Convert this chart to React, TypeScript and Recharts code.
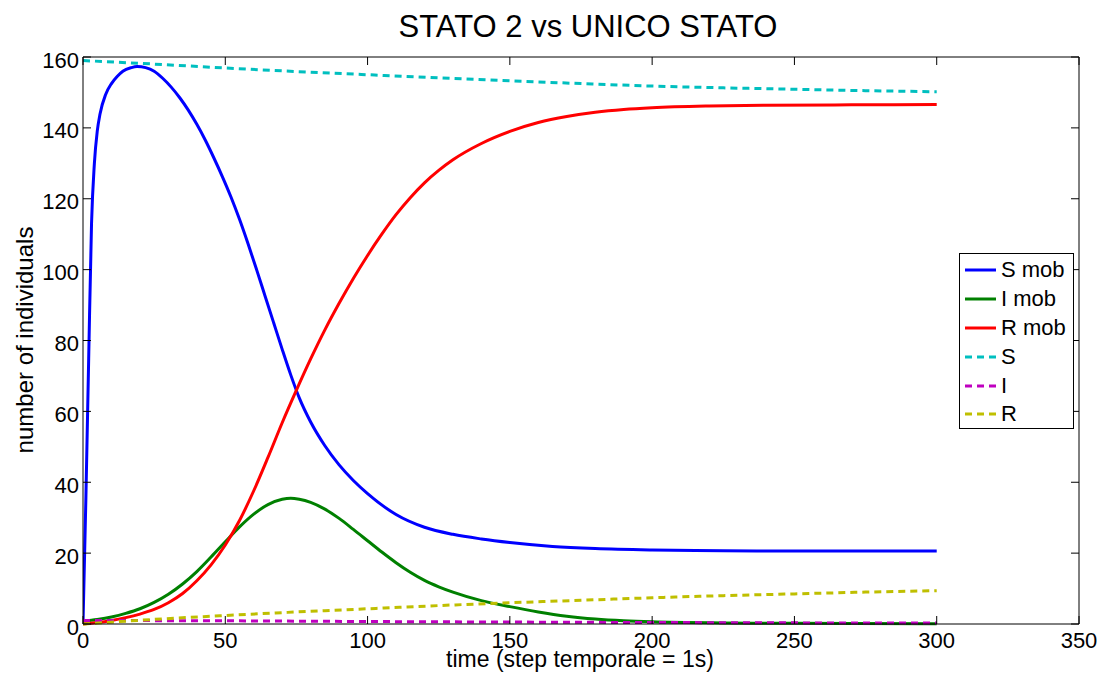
import React from 'react';
import { LineChart, Line, XAxis, YAxis, Legend, Label, ReferenceLine } from 'recharts';

// axis ticks
const xTicks = [0, 50, 100, 150, 200, 250, 300, 350];
const yTicks = [0, 20, 40, 60, 80, 100, 120, 140, 160];

// S mob
const sMobTime = [0, 1, 2, 3, 4, 5, 6, 8, 10, 12, 14, 17, 19, 22, 25, 28, 31, 34, 37, 40, 43, 46, 49, 52, 55, 58, 61, 64, 67, 70, 73, 76, 80, 85, 90, 95, 100, 110, 120, 130, 140, 150, 165, 180, 200, 225, 250, 275, 300];
const sMobValues = [0, 35, 75, 113, 130, 139, 144, 149.5, 152.5, 154.5, 156, 157, 157.3, 157, 156, 154, 151.5, 148.5, 145, 141, 136.5, 131.5, 126.2, 120.5, 114.2, 107.3, 100, 92.5, 85, 77.5, 70.3, 63.8, 57, 50.3, 44.9, 40.5, 36.8, 30.9, 27.3, 25.3, 24, 23, 21.9, 21.3, 20.9, 20.7, 20.6, 20.6, 20.6];

// I mob
const iMobTime = [0, 5, 10, 15, 20, 25, 30, 35, 40, 45, 50, 55, 60, 65, 70, 73, 76, 80, 85, 90, 95, 100, 105, 110, 115, 120, 125, 130, 140, 150, 160, 170, 180, 190, 200, 225, 250, 300];
const iMobValues = [0.8, 1.3, 2, 3, 4.3, 6.1, 8.4, 11.3, 14.8, 18.9, 23.2, 27.4, 31, 33.7, 35.2, 35.5, 35.2, 34.3, 32.4, 29.8, 26.7, 23.5, 20.3, 17.3, 14.6, 12.3, 10.5, 9, 6.6, 4.9, 3.4, 2.2, 1.4, 0.9, 0.6, 0.3, 0.2, 0.1];

// R mob
const rMobTime = [0, 5, 10, 15, 20, 25, 30, 35, 40, 45, 50, 55, 60, 65, 70, 75, 80, 85, 90, 95, 100, 105, 110, 115, 120, 125, 130, 140, 150, 160, 170, 180, 190, 200, 220, 240, 270, 300];
const rMobValues = [0, 0.4, 1, 1.8, 2.8, 4.1, 6, 8.6, 12.2, 16.7, 22.3, 29.2, 37.6, 47, 56.8, 66, 74.8, 83, 90.5, 97.5, 104, 110, 115.5, 120.3, 124.5, 128, 131, 135.6, 139, 141.5, 143.2, 144.4, 145.2, 145.7, 146.2, 146.4, 146.5, 146.6];

// S, I, R (unico stato)
const stateTime = [0, 25, 50, 75, 100, 125, 150, 175, 200, 225, 250, 275, 300];
const sValues = [159, 158, 156.9, 155.9, 155, 154.1, 153.3, 152.5, 151.8, 151.3, 150.9, 150.5, 150.2];
const iValues = [1, 0.95, 0.9, 0.8, 0.7, 0.62, 0.55, 0.48, 0.42, 0.37, 0.32, 0.28, 0.25];
const rValues = [0, 1.3, 2.4, 3.4, 4.3, 5.2, 6, 6.7, 7.4, 8, 8.5, 9, 9.4];

const toPoints = (t: number[], v: number[]) => t.map((x, i) => ({ t: x, v: v[i] }));

const series = [
  { name: 'S mob', color: '#0000ff', dash: undefined, data: toPoints(sMobTime, sMobValues) },
  { name: 'I mob', color: '#008000', dash: undefined, data: toPoints(iMobTime, iMobValues) },
  { name: 'R mob', color: '#ff0000', dash: undefined, data: toPoints(rMobTime, rMobValues) },
  { name: 'S', color: '#00bfbf', dash: '7 5', data: toPoints(stateTime, sValues) },
  { name: 'I', color: '#bf00bf', dash: '7 5', data: toPoints(stateTime, iValues) },
  { name: 'R', color: '#bfbf00', dash: '7 5', data: toPoints(stateTime, rValues) },
];

const FONT = '"Liberation Sans", Arial, Helvetica, sans-serif';
// plot box in pixels (matlab style inward ticks on all four sides)
const BOX = { left: 83, right: 1079, top: 57, bottom: 624 };
const TICK = 8;

const XTick = (props: any) => {
  const { x, payload } = props;
  return (
    <g>
      <line x1={x} y1={BOX.bottom} x2={x} y2={BOX.bottom - TICK} stroke="#000" />
      <line x1={x} y1={BOX.top} x2={x} y2={BOX.top + TICK} stroke="#000" />
      <text x={x} y={647.5} textAnchor="middle" fontSize={22} fill="#000">
        {payload.value}
      </text>
    </g>
  );
};

const YTick = (props: any) => {
  const { y, payload } = props;
  return (
    <g>
      <line x1={BOX.left} y1={y} x2={BOX.left + TICK} y2={y} stroke="#000" />
      <line x1={BOX.right} y1={y} x2={BOX.right - TICK} y2={y} stroke="#000" />
      <text x={79} y={y + 10.5} textAnchor="end" fontSize={22} fill="#000">
        {payload.value}
      </text>
    </g>
  );
};

const renderLegend = () => (
  <div
    style={{
      border: '1px solid #000',
      background: '#fff',
      boxSizing: 'border-box',
      width: 115,
      height: 176,
      paddingTop: 2,
    }}
  >
    {series.map((s) => (
      <div key={s.name} style={{ height: 28.8, display: 'flex', alignItems: 'center' }}>
        <svg width={36} height={6} style={{ marginLeft: 5 }}>
          <line x1={0} y1={3} x2={31} y2={3} stroke={s.color} strokeWidth={3} strokeDasharray={s.dash} />
        </svg>
        <span style={{ fontSize: 22, color: '#000', lineHeight: '22px' }}>{s.name}</span>
      </div>
    ))}
  </div>
);

export default function App() {
  return (
    <div style={{ position: 'absolute', left: 0, top: 0, width: 1106, height: 682, background: '#fff', fontFamily: FONT }}>
      <div
        style={{
          position: 'absolute',
          left: 0,
          width: 1176,
          top: 9,
          textAlign: 'center',
          fontSize: 31,
          lineHeight: '36px',
          color: '#000',
        }}
      >
        STATO 2 vs UNICO STATO
      </div>
      <LineChart width={1106} height={682} margin={{ top: 57, right: 27, bottom: 0, left: 0 }} style={{ fontFamily: FONT }}>
        <XAxis
          dataKey="t"
          type="number"
          domain={[0, 350]}
          ticks={xTicks}
          allowDataOverflow
          height={58}
          tickSize={0}
          tickLine={false}
          axisLine={{ stroke: '#000', strokeWidth: 1 }}
          tick={<XTick />}
        >
          <Label
            content={() => (
              <text x={580} y={667} textAnchor="middle" fontSize={23} fill="#000">
                time (step temporale = 1s)
              </text>
            )}
          />
        </XAxis>
        <YAxis
          type="number"
          domain={[0, 160]}
          ticks={yTicks}
          width={83}
          tickSize={0}
          tickLine={false}
          axisLine={{ stroke: '#000', strokeWidth: 1 }}
          tick={<YTick />}
        >
          <Label
            content={() => (
              <text x={33} y={340} textAnchor="middle" fontSize={24} fill="#000" transform="rotate(-90 33 340)">
                number of individuals
              </text>
            )}
          />
        </YAxis>
        <ReferenceLine y={160} stroke="#000" strokeWidth={1} />
        <ReferenceLine x={350} stroke="#000" strokeWidth={1} />
        <Legend
          layout="vertical"
          align="center"
          verticalAlign="middle"
          content={renderLegend}
          wrapperStyle={{ position: 'absolute', left: 959, top: 253, width: 115, height: 176 }}
        />
        {series.map((s) => (
          <Line
            key={s.name}
            data={s.data}
            dataKey="v"
            name={s.name}
            type="monotone"
            stroke={s.color}
            strokeWidth={3}
            strokeDasharray={s.dash}
            dot={false}
            activeDot={false}
            isAnimationActive={false}
          />
        ))}
      </LineChart>
    </div>
  );
}
